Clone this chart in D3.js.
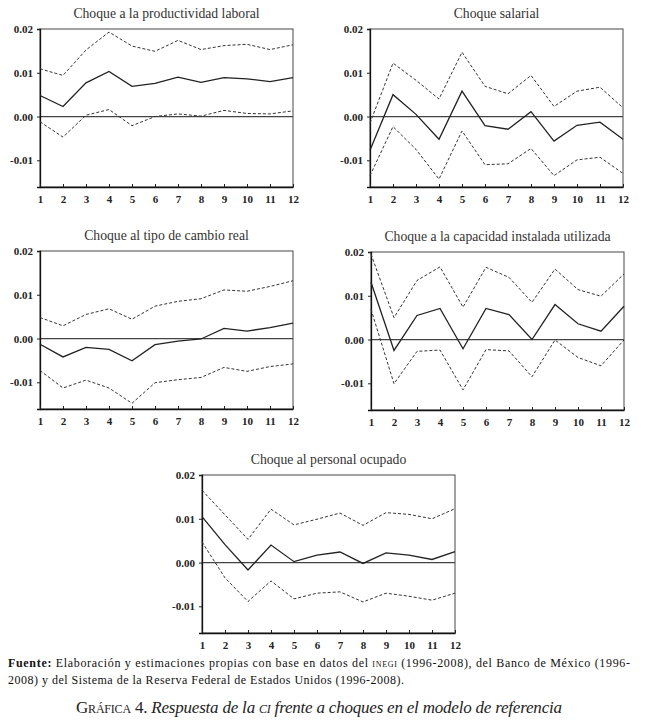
<!DOCTYPE html>
<html><head><meta charset="utf-8">
<script src="https://cdn.jsdelivr.net/npm/d3@7/dist/d3.min.js"></script>
<style>
html,body{margin:0;padding:0;background:#fff;}
svg{display:block;}
</style></head>
<body>
<svg id="c" width="646" height="727" font-family="Liberation Serif"></svg>
<script>
const periods = [1,2,3,4,5,6,7,8,9,10,11,12];
const yTicks = [0.02, 0.01, 0.00, -0.01];
const yTickLabels = ["0.02","0.01","0.00","-0.01"];

const titles = [
  "Choque a la productividad laboral",
  "Choque salarial",
  "Choque al tipo de cambio real",
  "Choque a la capacidad instalada utilizada",
  "Choque al personal ocupado"
];

// Panel 1: productividad laboral
const p1Mid   = [0.0048,0.0023,0.0077,0.0103,0.0069,0.0076,0.0090,0.0078,0.0089,0.0086,0.0080,0.0089];
const p1Upper = [0.0109,0.0094,0.0152,0.0193,0.0161,0.0149,0.0174,0.0153,0.0162,0.0165,0.0153,0.0164];
const p1Lower = [-0.0012,-0.0047,0.0003,0.0016,-0.0021,0.0000,0.0006,0.0001,0.0014,0.0007,0.0006,0.0013];
// Panel 2: salarial
const p2Mid   = [-0.0077,0.0050,0.0005,-0.0052,0.0058,-0.0021,-0.0029,0.0011,-0.0056,-0.0020,-0.0013,-0.0052];
const p2Upper = [-0.0015,0.0122,0.0083,0.0040,0.0147,0.0069,0.0052,0.0094,0.0023,0.0058,0.0067,0.0020];
const p2Lower = [-0.0135,-0.0023,-0.0075,-0.0143,-0.0033,-0.0110,-0.0108,-0.0073,-0.0135,-0.0099,-0.0093,-0.0130];
// Panel 3: tipo de cambio real
const p3Mid   = [-0.0013,-0.0042,-0.0020,-0.0025,-0.0051,-0.0014,-0.0006,-0.0001,0.0023,0.0017,0.0025,0.0035];
const p3Upper = [0.0048,0.0029,0.0055,0.0068,0.0044,0.0074,0.0085,0.0091,0.0111,0.0108,0.0119,0.0132];
const p3Lower = [-0.0073,-0.0113,-0.0095,-0.0113,-0.0148,-0.0101,-0.0094,-0.0089,-0.0066,-0.0075,-0.0064,-0.0058];
// Panel 4: capacidad instalada utilizada
const p4Mid   = [0.0131,-0.0025,0.0055,0.0071,-0.0021,0.0071,0.0057,0.0000,0.0080,0.0036,0.0019,0.0076];
const p4Upper = [0.0195,0.0050,0.0135,0.0166,0.0074,0.0165,0.0142,0.0085,0.0161,0.0114,0.0099,0.0150];
const p4Lower = [0.0069,-0.0101,-0.0027,-0.0024,-0.0115,-0.0023,-0.0026,-0.0085,-0.0001,-0.0041,-0.0060,-0.0001];
// Panel 5: personal ocupado
const p5Mid   = [0.0105,0.0041,-0.0017,0.0040,0.0002,0.0017,0.0024,-0.0002,0.0022,0.0017,0.0007,0.0025];
const p5Upper = [0.0165,0.0109,0.0053,0.0122,0.0086,0.0099,0.0113,0.0085,0.0114,0.0110,0.0100,0.0123];
const p5Lower = [0.0047,-0.0035,-0.0089,-0.0042,-0.0083,-0.0070,-0.0067,-0.0090,-0.0070,-0.0077,-0.0086,-0.0070];

const panels = [
  {title: titles[0], mid: p1Mid, up: p1Upper, lo: p1Lower, x: 40,  y: 29},
  {title: titles[1], mid: p2Mid, up: p2Upper, lo: p2Lower, x: 370, y: 29},
  {title: titles[2], mid: p3Mid, up: p3Upper, lo: p3Lower, x: 40,  y: 251},
  {title: titles[3], mid: p4Mid, up: p4Upper, lo: p4Lower, x: 371, y: 252},
  {title: titles[4], mid: p5Mid, up: p5Upper, lo: p5Lower, x: 202, y: 475}
];

const FONT = "Liberation Serif";
const W = 253, H = 158;
const svg = d3.select("#c");

panels.forEach(p => {
  const g = svg.append("g").attr("transform", `translate(${p.x},${p.y})`);
  const x = d3.scaleLinear().domain([1,12]).range([0,W]);
  const y = d3.scaleLinear().domain([-0.0161,0.02]).range([H,0]);

  // title
  g.append("text").attr("x", W/2).attr("y", -11).attr("text-anchor","middle")
    .attr("font-family", FONT).attr("font-size", 13.7).attr("fill","#333").text(p.title);

  // frame
  g.append("rect").attr("x",0).attr("y",0).attr("width",W).attr("height",H)
    .attr("fill","none").attr("stroke","#666").attr("stroke-width",1.2);

  // zero line
  g.append("line").attr("x1",0).attr("x2",W).attr("y1",y(0)).attr("y2",y(0))
    .attr("stroke","#444").attr("stroke-width",1.2);

  // y axis
  const ya = d3.axisLeft(y).tickValues(yTicks).tickFormat((d,i)=>yTickLabels[i]).tickSize(3).tickPadding(4);
  const yg = g.append("g").call(ya).attr("font-family", FONT).attr("font-size", 11).attr("font-weight","bold");
  yg.select(".domain").attr("stroke","#111").attr("stroke-width",1.3);
  yg.selectAll(".tick line").attr("stroke","#222");
  yg.selectAll("text").attr("fill","#222");

  // x axis
  const xa = d3.axisBottom(x).tickValues(periods).tickFormat(d3.format("d")).tickSizeInner(-3).tickSizeOuter(0).tickPadding(8);
  const xg = g.append("g").attr("transform",`translate(0,${H})`).call(xa)
    .attr("font-family", FONT).attr("font-size", 11).attr("font-weight","bold");
  xg.select(".domain").attr("stroke","#111").attr("stroke-width",1.3);
  xg.selectAll(".tick line").attr("stroke","#222");
  xg.selectAll("text").attr("fill","#222");

  const line = d3.line().x((d,i)=>x(periods[i])).y(d=>y(d));
  g.append("path").datum(p.up).attr("d",line).attr("fill","none")
    .attr("stroke","#333").attr("stroke-width",1).attr("stroke-dasharray","3,2");
  g.append("path").datum(p.lo).attr("d",line).attr("fill","none")
    .attr("stroke","#333").attr("stroke-width",1).attr("stroke-dasharray","3,2");
  g.append("path").datum(p.mid).attr("d",line).attr("fill","none")
    .attr("stroke","#222").attr("stroke-width",1.3);
});

// Footnote
const fn = svg.append("text").attr("x",8).attr("y",667).attr("font-family",FONT).attr("font-size",12).attr("fill","#111")
  .attr("textLength",622).attr("lengthAdjust","spacing");
fn.append("tspan").attr("font-weight","bold").text("Fuente:");
fn.append("tspan").text(" Elaboración y estimaciones propias con base en datos del ");
fn.append("tspan").attr("font-variant","small-caps").text("inegi");
fn.append("tspan").text(" (1996-2008), del Banco de México (1996-");
svg.append("text").attr("x",8).attr("y",684).attr("font-family",FONT).attr("font-size",12).attr("fill","#111")
  .attr("textLength",396).attr("lengthAdjust","spacing")
  .text("2008) y del Sistema de la Reserva Federal de Estados Unidos (1996-2008).");

// Caption
const cap = svg.append("text").attr("x",76).attr("y",713)
  .attr("font-family",FONT).attr("font-size",17).attr("fill","#222")
  .attr("textLength",486).attr("lengthAdjust","spacing");
cap.append("tspan").attr("font-variant","small-caps").text("Gráfica 4. ");
cap.append("tspan").attr("font-style","italic").text("Respuesta de la ");
cap.append("tspan").attr("font-style","italic").attr("font-variant","small-caps").text("ci");
cap.append("tspan").attr("font-style","italic").text(" frente a choques en el modelo de referencia");
</script>
</body></html>
